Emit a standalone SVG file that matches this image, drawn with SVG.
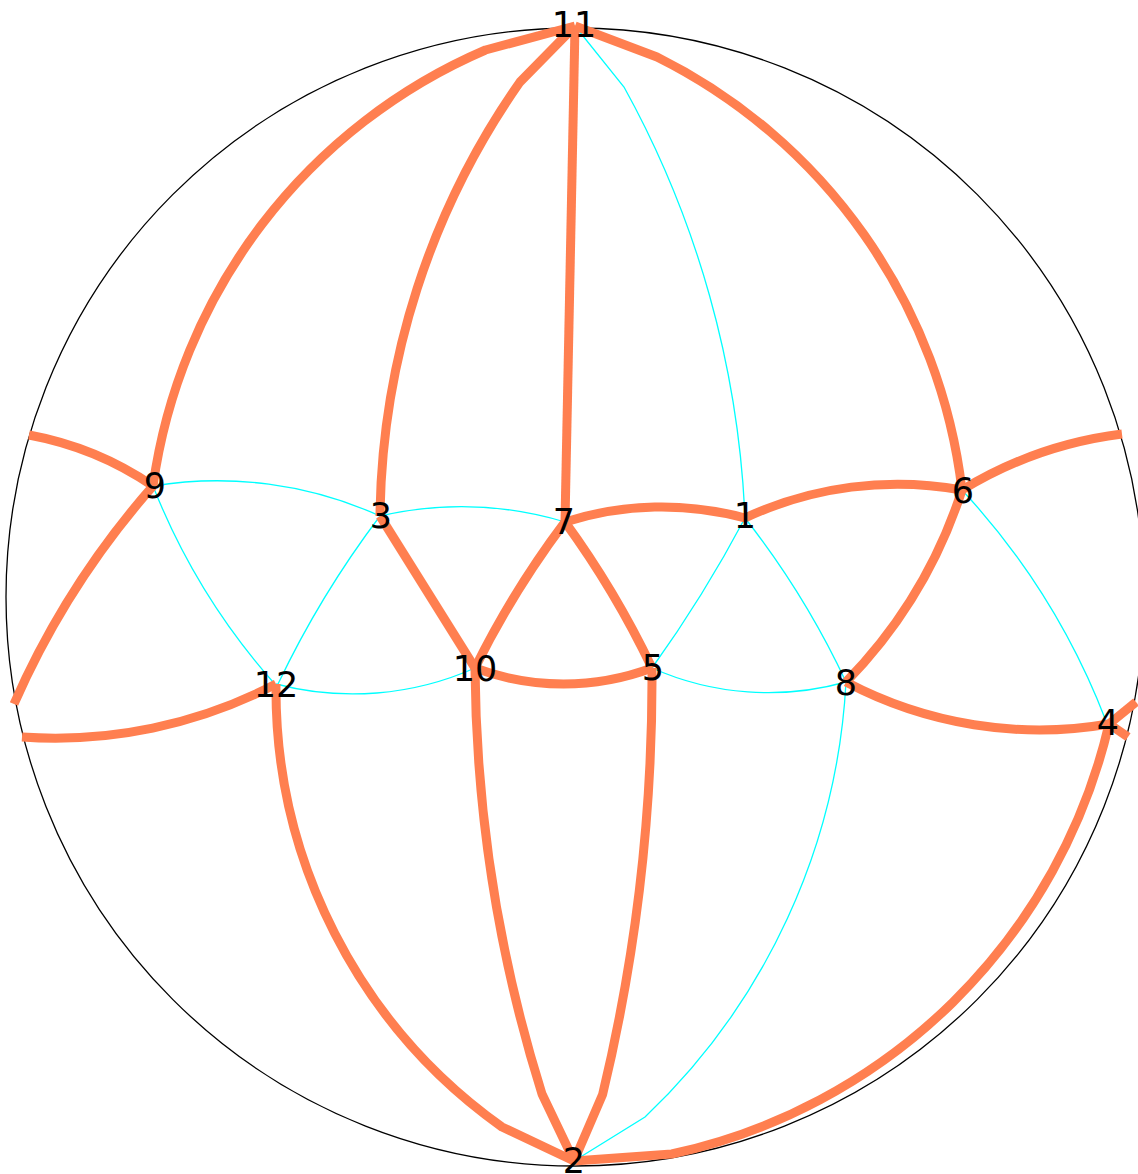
<svg xmlns="http://www.w3.org/2000/svg" width="1138" height="1174" viewBox="0 0 1138 1174">
<style>
.o{fill:none;stroke:#FF7F50;stroke-width:9;stroke-linejoin:round}
.c{fill:none;stroke:#00FFFF;stroke-width:1.3}
.lbl{font-family:"DejaVu Sans",sans-serif;font-size:35px;fill:#000;text-anchor:middle}
</style>
<rect width="1138" height="1174" fill="#fff"/>
<circle id="outline" cx="575" cy="597" r="569" fill="none" stroke="#000" stroke-width="1.3"/>
<g id="connectors">
<g id="thin">
<path class="c" d="M575,26 L624,87 A977,977 0 0 1 745,518"/>
<path class="c" d="M153,486 A394,394 0 0 1 380,516"/>
<path class="c" d="M380,516 A363,363 0 0 1 565,522"/>
<path class="c" d="M153,486 A665,665 0 0 0 273,682"/>
<path class="c" d="M380,516 A968,968 0 0 0 278,684"/>
<path class="c" d="M276,684 A301,301 0 0 0 475,668"/>
<path class="c" d="M745,518 A1300,1300 0 0 1 652,668"/>
<path class="c" d="M745,518 A846,846 0 0 1 846,682"/>
<path class="c" d="M652,668 A287,287 0 0 0 846,682"/>
<path class="c" d="M962,490 A719,719 0 0 1 1106,721"/>
<path class="c" d="M846,682 A647,647 0 0 1 645,1117 L574,1161"/>
</g>
<g id="thick">
<path class="o" d="M575,26 L485.5,50 A558,558 0 0 0 153,486"/>
<path class="o" d="M575,26 L520,82 A771,771 0 0 0 380,516"/>
<path class="o" d="M575,26 L565,522"/>
<path class="o" d="M575,26 L657,57 A557,557 0 0 1 962,490"/>
<path class="o" d="M153,486 A324,324 0 0 0 29,435"/>
<path class="o" d="M153,486 A840,840 0 0 0 14,704"/>
<path class="o" d="M276,684 A477,477 0 0 1 22,737"/>
<path class="o" d="M380,516 L475,668"/>
<path class="o" d="M565,522 A921,921 0 0 0 475,668"/>
<path class="o" d="M565,522 A921,921 0 0 1 652,668"/>
<path class="o" d="M565,522 A318,318 0 0 1 745,518"/>
<path class="o" d="M745,518 A360,360 0 0 1 962,490"/>
<path class="o" d="M962,490 A403,403 0 0 1 1122,434"/>
<path class="o" d="M962,490 A490,490 0 0 1 846,682"/>
<path class="o" d="M846,682 A414,414 0 0 0 1109,724"/>
<path class="o" d="M1109,724 L1136,702"/>
<path class="o" d="M1109,724 L1128,737"/>
<path class="o" d="M574,1161 L671.7,1154 A573,573 0 0 0 1109,724"/>
<path class="o" d="M475,668 A253,253 0 0 0 652,668"/>
<path class="o" d="M276,684 A537,537 0 0 0 502,1127 L574,1161"/>
<path class="o" d="M475,668 A1460,1460 0 0 0 542,1094 L574,1161"/>
<path class="o" d="M652,668 A1780,1780 0 0 1 602.6,1094.5 L574,1161"/>
</g>
</g>
<g id="node-11"><text class="lbl" x="574" y="37">11</text></g>
<g id="node-9"><text class="lbl" x="155" y="498">9</text></g>
<g id="node-3"><text class="lbl" x="381" y="528">3</text></g>
<g id="node-7"><text class="lbl" x="564" y="534">7</text></g>
<g id="node-1"><text class="lbl" x="745" y="528">1</text></g>
<g id="node-6"><text class="lbl" x="963" y="503">6</text></g>
<g id="node-12"><text class="lbl" x="276" y="697">12</text></g>
<g id="node-10"><text class="lbl" x="475" y="681">10</text></g>
<g id="node-5"><text class="lbl" x="653" y="680">5</text></g>
<g id="node-8"><text class="lbl" x="846" y="695">8</text></g>
<g id="node-4"><text class="lbl" x="1108" y="735">4</text></g>
<g id="node-2"><text class="lbl" x="574" y="1173">2</text></g>
</svg>
